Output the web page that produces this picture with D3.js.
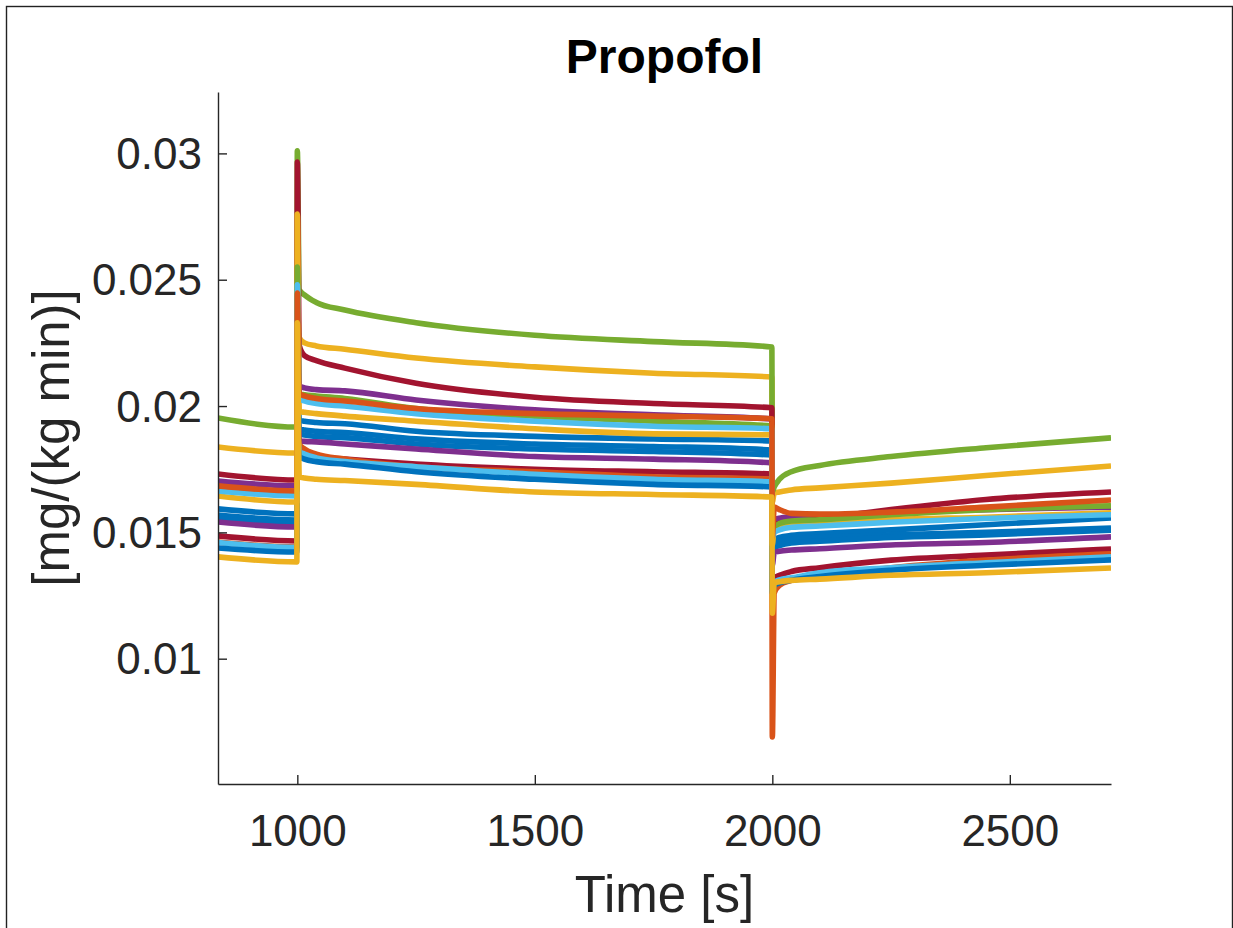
<!DOCTYPE html>
<html>
<head>
<meta charset="utf-8">
<script src="https://cdn.jsdelivr.net/npm/d3@7"></script>
<style>
    body { margin: 0; background: #fff; }
    svg { display: block; }
    text { font-family: "Liberation Sans", Arial, Helvetica, sans-serif; }
</style>
</head>
<body>
<svg id="chart" width="1233" height="928"></svg>
<script>
// sample times [s]: pre-step, step at 1000, plateau, step at 2000, recovery
const times = [833, 999, 1000, 1004, 1015, 1040, 1100, 1250, 1500, 1750, 1999, 2000, 2004, 2015, 2040, 2100, 2250, 2450, 2713];

const xTicks = [1000, 1500, 2000, 2500];
const yTicks = [0.01, 0.015, 0.02, 0.025, 0.03];

const BLUE = '#0072BD', ORANGE = '#D95319', YELLOW = '#EDB120', PURPLE = '#7E2F8E',
      GREEN = '#77AC30', LTBLUE = '#4DBEEE', DKRED = '#A2142F';

// listed in drawing order (later ones end up on top)
const seriesColors = [BLUE, BLUE, BLUE, PURPLE, PURPLE, DKRED, ORANGE, LTBLUE, BLUE, YELLOW,
                      GREEN, DKRED, YELLOW, GREEN, LTBLUE, ORANGE, YELLOW];

const seriesValues = [
    [0.01593, 0.01573, 0.0210, 0.01945, 0.0194, 0.01935, 0.0193, 0.0190, 0.0188, 0.0187, 0.01862, 0.0142, 0.0147, 0.0148, 0.01488, 0.01495, 0.0151, 0.0153, 0.01557],
    [0.01569, 0.01549, 0.0205, 0.0191, 0.01905, 0.0190, 0.01895, 0.0187, 0.0185, 0.0184, 0.01826, 0.0140, 0.0145, 0.0146, 0.0147, 0.0148, 0.0149, 0.0150, 0.01517],
    [0.01555, 0.01535, 0.0203, 0.0189, 0.01885, 0.0188, 0.01875, 0.0185, 0.0183, 0.0182, 0.01806, 0.0139, 0.0144, 0.01448, 0.01458, 0.01465, 0.0148, 0.0149, 0.01509],
    [0.01541, 0.01521, 0.0200, 0.01865, 0.0186, 0.01858, 0.0185, 0.0183, 0.0180, 0.0179, 0.01775, 0.0137, 0.0142, 0.01425, 0.0143, 0.01435, 0.0145, 0.0146, 0.01482],
    [0.01703, 0.01684, 0.0240, 0.0208, 0.02072, 0.02065, 0.0206, 0.02024, 0.01985, 0.01965, 0.01949, 0.0150, 0.0155, 0.01556, 0.0156, 0.01565, 0.0158, 0.0159, 0.0160],
    [0.01486, 0.01466, 0.0199, 0.0183, 0.01815, 0.0180, 0.0179, 0.0177, 0.0175, 0.0174, 0.01731, 0.0128, 0.0132, 0.0133, 0.01345, 0.0136, 0.0139, 0.0141, 0.01434],
    [0.01462, 0.01442, 0.0188, 0.0185, 0.0183, 0.0181, 0.0179, 0.0176, 0.0174, 0.0172, 0.01711, 0.0069, 0.0126, 0.0129, 0.0131, 0.0133, 0.0136, 0.0139, 0.01415],
    [0.0146, 0.0144, 0.0190, 0.0182, 0.0181, 0.01795, 0.0178, 0.0176, 0.0173, 0.0171, 0.0170, 0.0127, 0.0130, 0.01312, 0.0132, 0.0134, 0.0136, 0.0138, 0.01403],
    [0.01438, 0.01422, 0.0188, 0.0180, 0.0179, 0.0178, 0.0177, 0.0174, 0.0171, 0.0169, 0.0168, 0.0126, 0.0129, 0.0130, 0.0131, 0.01325, 0.0135, 0.0137, 0.01391],
    [0.01838, 0.01814, 0.0240, 0.0227, 0.0225, 0.02238, 0.02225, 0.0219, 0.02155, 0.0213, 0.02115, 0.0162, 0.01656, 0.0166, 0.01668, 0.01676, 0.01695, 0.01725, 0.01763],
    [0.01953, 0.01917, 0.0301, 0.0246, 0.0244, 0.0241, 0.0238, 0.0233, 0.0228, 0.02255, 0.02234, 0.0166, 0.0168, 0.0171, 0.0174, 0.01765, 0.0180, 0.01835, 0.01874],
    [0.01731, 0.01707, 0.02966, 0.0224, 0.0220, 0.0218, 0.0215, 0.0209, 0.02035, 0.0201, 0.01993, 0.0152, 0.0153, 0.01535, 0.0154, 0.01555, 0.0159, 0.0163, 0.0166],
    [0.01644, 0.0162, 0.0276, 0.0198, 0.01975, 0.0197, 0.0196, 0.0194, 0.0191, 0.0189, 0.01886, 0.0145, 0.0152, 0.01525, 0.0153, 0.01535, 0.0155, 0.0156, 0.01577],
    [0.01672, 0.01652, 0.0255, 0.0205, 0.02045, 0.0204, 0.0203, 0.0199, 0.0196, 0.0194, 0.01921, 0.0150, 0.0152, 0.01535, 0.01545, 0.0155, 0.0157, 0.0159, 0.01605],
    [0.01664, 0.01644, 0.0248, 0.0203, 0.0202, 0.0201, 0.0200, 0.0197, 0.0194, 0.0192, 0.0191, 0.0148, 0.0150, 0.0151, 0.0152, 0.01525, 0.0154, 0.01555, 0.0157],
    [0.01684, 0.01664, 0.02447, 0.0205, 0.0204, 0.0203, 0.0202, 0.0199, 0.0197, 0.0196, 0.0195, 0.0148, 0.0160, 0.0159, 0.01575, 0.01572, 0.0158, 0.0160, 0.01628],
    [0.01403, 0.01383, 0.02329, 0.0172, 0.01715, 0.0171, 0.01705, 0.0169, 0.0166, 0.0165, 0.0164, 0.0118, 0.0130, 0.01305, 0.0131, 0.01315, 0.0133, 0.0134, 0.01359]
];

const width = 1233, height = 928;
const margin = {left: 218, top: 92, right: 122, bottom: 144};
const plotW = width - margin.left - margin.right;
const plotH = height - margin.top - margin.bottom;
const axisColor = '#262626';

let svg = d3.select('#chart');

// figure frame
svg.append('rect')
    .attr('x', 6.5).attr('y', 6.5)
    .attr('width', 1226).attr('height', 940)
    .attr('fill', 'none')
    .attr('stroke', '#222')
    .attr('stroke-width', 1.4);

let x = d3.scaleLinear().domain([833, 2713]).range([0, plotW]);
let y = d3.scaleLinear().domain([0.00504, 0.03243]).range([plotH, 0]);

let g = svg.append('g').attr('transform', `translate(${margin.left},${margin.top})`);

g.append('clipPath').attr('id', 'plotClip')
    .append('rect').attr('width', plotW).attr('height', plotH);

let line = d3.line()
    .x((d, i) => x(times[i]))
    .y(d => y(d))
    .curve(d3.curveMonotoneX);

g.append('g')
    .attr('clip-path', 'url(#plotClip)')
    .selectAll('path')
    .data(seriesValues)
    .join('path')
    .attr('d', d => line(d))
    .attr('fill', 'none')
    .attr('stroke', (d, i) => seriesColors[i])
    .attr('stroke-width', 5.6)
    .attr('stroke-linejoin', 'round');

// axes, ticks pointing inwards like matlab
let xAxis = g.append('g')
    .attr('transform', `translate(0,${plotH})`)
    .call(d3.axisBottom(x).tickValues(xTicks).tickFormat(d3.format('d'))
        .tickSizeInner(-9).tickSizeOuter(0).tickPadding(31));

let yAxis = g.append('g')
    .call(d3.axisLeft(y).tickValues(yTicks).tickFormat(d => String(d))
        .tickSizeInner(-9).tickSizeOuter(0).tickPadding(16));

[xAxis, yAxis].forEach(ax => {
    ax.select('.domain').attr('stroke', axisColor).attr('stroke-width', 1.4);
    ax.selectAll('.tick line').attr('stroke', axisColor).attr('stroke-width', 1.4);
    ax.selectAll('.tick text')
        .attr('fill', axisColor)
        .style('font-size', '44px')
        .style('font-family', '"Liberation Sans", Arial, sans-serif');
});
yAxis.selectAll('.tick text').attr('dy', '0.34em');

svg.append('text')
    .attr('x', margin.left + plotW / 2)
    .attr('y', 73)
    .attr('text-anchor', 'middle')
    .style('font-size', '48px')
    .style('font-weight', 'bold')
    .attr('fill', '#000')
    .text('Propofol');

svg.append('text')
    .attr('x', margin.left + plotW / 2)
    .attr('y', 912)
    .attr('text-anchor', 'middle')
    .style('font-size', '51px')
    .attr('fill', axisColor)
    .text('Time [s]');

svg.append('text')
    .attr('transform', `translate(69,${margin.top + plotH / 2}) rotate(-90)`)
    .attr('text-anchor', 'middle')
    .style('font-size', '51px')
    .attr('fill', axisColor)
    .text('[mg/(kg min)]');
</script>
</body>
</html>
